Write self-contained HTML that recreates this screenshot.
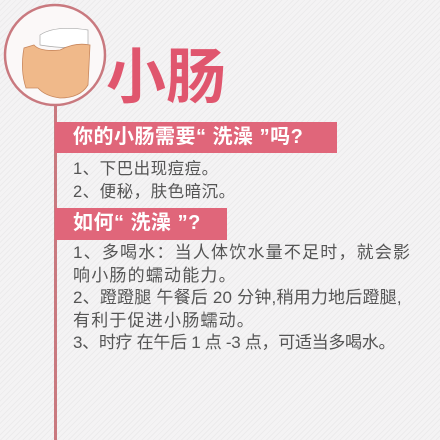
<!DOCTYPE html>
<html><head><meta charset="utf-8"><style>
body{margin:0;width:440px;height:440px;overflow:hidden;font-family:"Liberation Sans","Noto Sans CJK SC",sans-serif;
background:#f2f1f2 repeating-linear-gradient(135deg,#f4f3f4 0 3px,#ecebec 3px 4px);position:relative}
.a{position:absolute}
.bar{background:#e0667a;color:#fff;font-weight:bold;font-size:20px;line-height:31px;padding-left:18px;box-sizing:border-box}
.t{color:#555;font-size:16.5px;left:73px;white-space:nowrap}
</style></head><body>
<div class="a" style="left:54px;top:104px;width:3px;height:336px;background:#c9797f"></div>
<svg class="a" style="left:0;top:0" width="112" height="112">
<circle cx="55" cy="55" r="50" fill="#fbf8f8" stroke="#c9797f" stroke-width="2.5"/>
<path d="M40 35 Q55 25 88 30 L88 45 Q70 50 40 45Z" fill="#fff" stroke="#aaa" stroke-width="0.7"/>
<path d="M24 48 Q20 70 26 88 L38 88 Q45 96 60 98 Q80 98 88 85 L90 45 Q75 42 60 50 Q40 52 34 45Z" fill="#f0b98a" stroke="#c9885e" stroke-width="0.8"/>
</svg>
<div class="a" style="left:106px;top:44px;font-size:60px;font-weight:bold;color:#e0566e;line-height:68px">小肠</div>
<div class="a bar" style="left:55px;top:122px;width:282px;height:31px;letter-spacing:0.5px">你的小肠需要“ 洗澡 ”吗?</div>
<div class="a t" style="top:155px;letter-spacing:0.5px">1、下巴出现痘痘。</div>
<div class="a t" style="top:178px;letter-spacing:0.5px">2、便秘，肤色暗沉。</div>
<div class="a bar" style="left:55px;top:208px;width:172px;height:32px;letter-spacing:0.5px">如何“ 洗澡 ”?</div>
<div class="a t" style="top:242px;line-height:22.5px;font-size:17px;letter-spacing:1.2px">1、多喝水：当人体饮水量不足时，就会影<br>响小肠的蠕动能力。<br><span style="letter-spacing:0.2px">2、蹬蹬腿 午餐后 20 分钟,稍用力地后蹬腿,</span><br>有利于促进小肠蠕动。<br><span style="letter-spacing:-0.3px">3、时疗 在午后 1 点 -3 点，可适当多喝水。</span></div>
</body></html>
